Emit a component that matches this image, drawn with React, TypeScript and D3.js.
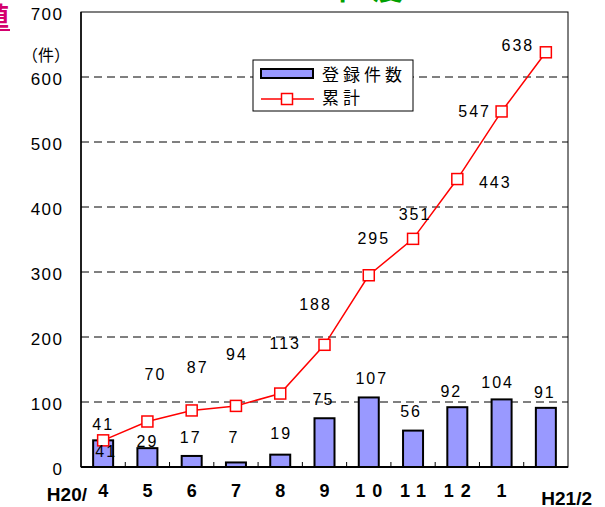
import React from "react";
import * as d3 from "d3";

// Monthly registrations, H20/4 – H21/2
const months = ["4", "5", "6", "7", "8", "9", "10", "11", "12", "1", "2"];
const registrations = [41, 29, 17, 7, 19, 75, 107, 56, 92, 104, 91];
const cumulative = [41, 70, 87, 94, 113, 188, 295, 351, 443, 547, 638];
const yTicks = [0, 100, 200, 300, 400, 500, 600, 700];

// Label anchor offsets (dx, baseline offset from the mark) per point
const cumLabelPos: [number, number][] = [
  [-1, -10], [7, -42], [5, -37], [0, -46], [4, -45], [-10, -35],
  [4, -31], [1, -19], [37, 9], [-28, 6], [-29, -1],
];
const barLabelPos: [number, number][] = [
  [2, 17], [-1, -1], [-2, -13], [-3, -19], [0, -16], [-2, -13],
  [2, -13], [-3, -14], [-7, -10], [-5, -11], [-2, -10],
];

const W = 605;
const H = 507;
const plot = { left: 81, right: 568, top: 12, bottom: 467 };

export default function App() {
  const x = d3
    .scaleBand<number>()
    .domain(d3.range(months.length))
    .range([plot.left, plot.right])
    .padding(0);
  const y = d3.scaleLinear().domain([0, 700]).range([plot.bottom, plot.top]);
  const cx = (i: number) => (x(i) as number) + x.bandwidth() / 2;
  const barW = 20;

  const line = d3
    .line<number>()
    .x((_, i) => cx(i))
    .y((d) => y(d));

  const numFont = "'Liberation Sans', Arial, sans-serif";
  const cjkFont = "'Noto Sans CJK JP', sans-serif";
  const ls = 2;

  return (
    <svg
      width={W}
      height={H}
      style={{ position: "absolute", left: 0, top: 0, background: "#fff" }}
    >
      {/* partially visible heading fragments */}
      <text x={326} y={-1.5} fontFamily={cjkFont} fontWeight="bold" fontSize={30} letterSpacing={17} fill="#00a000">
        年度
      </text>
      <text x={9} y={26} textAnchor="end" fontFamily={cjkFont} fontWeight="bold" fontSize={26} fill="#d4006e">
        値
      </text>
      <rect x={0} y={29} width={10} height={2} fill="#d4006e" />

      {/* plot frame */}
      <rect
        x={plot.left}
        y={plot.top}
        width={plot.right - plot.left}
        height={plot.bottom - plot.top}
        fill="#fff"
        stroke="#000"
        strokeWidth={1}
      />

      {/* dashed gridlines */}
      {yTicks
        .filter((t) => t > 0 && t < 700)
        .map((t) => (
          <line
            key={t}
            x1={plot.left}
            x2={plot.right}
            y1={y(t)}
            y2={y(t)}
            stroke="#000"
            strokeWidth={1}
            strokeDasharray="8,5"
          />
        ))}

      {/* y tick labels */}
      {yTicks.map((t) => (
        <text
          key={t}
          x={62 + 1.5}
          y={y(t) + 8}
          textAnchor="end"
          fontFamily={numFont}
          fontSize={17}
          letterSpacing={1.5}
          fill="#000"
        >
          {t}
        </text>
      ))}
      <text x={46} y={61} textAnchor="middle" fontFamily={cjkFont} fontSize={16} fill="#000">
        （件）
      </text>

      {/* bars */}
      {registrations.map((v, i) => (
        <rect
          key={i}
          x={cx(i) - barW / 2}
          y={y(v)}
          width={barW}
          height={y(0) - y(v)}
          fill="#9999ff"
          stroke="#000"
          strokeWidth={2}
        />
      ))}

      {/* axes */}
      <line x1={plot.left} x2={plot.left} y1={plot.top} y2={plot.bottom} stroke="#000" strokeWidth={1.5} />
      <line x1={plot.left} x2={plot.right} y1={plot.bottom} y2={plot.bottom} stroke="#000" strokeWidth={2} />
      {d3.range(1, months.length).map((k) => (
        <line
          key={k}
          x1={x(k) as number}
          x2={x(k) as number}
          y1={plot.bottom}
          y2={plot.bottom - 5}
          stroke="#000"
          strokeWidth={1}
        />
      ))}

      {/* cumulative line */}
      <path d={line(cumulative) || ""} fill="none" stroke="#ff0000" strokeWidth={1.5} />
      {cumulative.map((v, i) => (
        <rect
          key={i}
          x={cx(i) - 5.5}
          y={y(v) - 5.5}
          width={11}
          height={11}
          fill="#fff"
          stroke="#ff0000"
          strokeWidth={1.5}
        />
      ))}

      {/* cumulative value labels */}
      {cumulative.map((v, i) => (
        <text
          key={i}
          x={cx(i) + cumLabelPos[i][0] + ls / 2}
          y={y(v) + cumLabelPos[i][1]}
          textAnchor="middle"
          fontFamily={numFont}
          fontSize={16}
          letterSpacing={ls}
          fill="#000"
        >
          {v}
        </text>
      ))}

      {/* bar value labels */}
      {registrations.map((v, i) => (
        <text
          key={i}
          x={cx(i) + barLabelPos[i][0] + ls / 2}
          y={y(v) + barLabelPos[i][1]}
          textAnchor="middle"
          fontFamily={numFont}
          fontSize={16}
          letterSpacing={ls}
          fill="#000"
        >
          {v}
        </text>
      ))}

      {/* x category labels */}
      {months.slice(0, months.length - 1).map((m, i) => (
        <text
          key={i}
          x={cx(i) + (m.length > 1 ? 3.5 : 0)}
          y={497}
          textAnchor="middle"
          fontFamily={numFont}
          fontWeight="bold"
          fontSize={18}
          letterSpacing={m.length > 1 ? 7 : 0}
          fill="#000"
        >
          {m}
        </text>
      ))}
      <text x={87} y={501} textAnchor="end" fontFamily={numFont} fontWeight="bold" fontSize={19} fill="#000">
        H20/
      </text>
      <text x={592} y={505} textAnchor="end" fontFamily={numFont} fontWeight="bold" fontSize={19} fill="#000">
        {"H21/" + months[months.length - 1]}
      </text>

      {/* legend */}
      <g>
        <rect x={253} y={60} width={160} height={51} fill="#fff" stroke="#000" strokeWidth={1} />
        <rect x={261} y={69} width={52} height={9} fill="#9999ff" stroke="#000" strokeWidth={2} />
        <text x={322} y={81} fontFamily={cjkFont} fontSize={17} letterSpacing={4} fill="#000">
          登録件数
        </text>
        <line x1={261} x2={314} y1={99} y2={99} stroke="#ff0000" strokeWidth={1.5} />
        <rect x={281.5} y={93.5} width={11} height={11} fill="#fff" stroke="#ff0000" strokeWidth={1.5} />
        <text x={322} y={104} fontFamily={cjkFont} fontSize={17} letterSpacing={4} fill="#000">
          累計
        </text>
      </g>
    </svg>
  );
}
